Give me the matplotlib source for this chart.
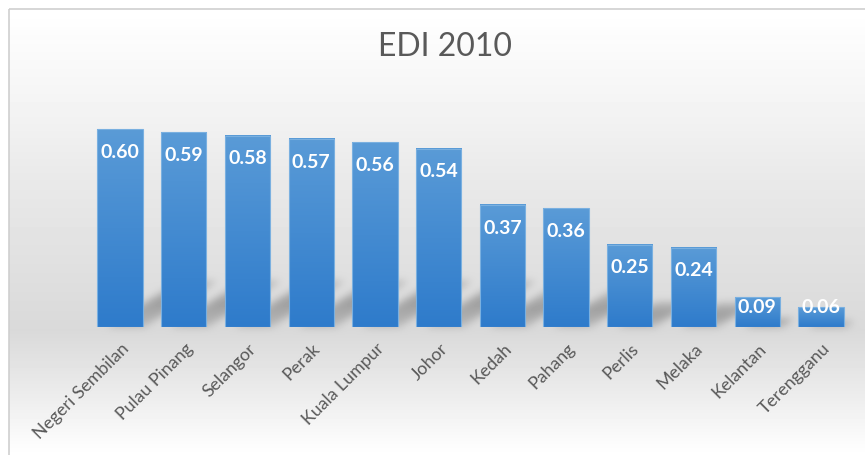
import numpy as np
import matplotlib
matplotlib.use("Agg")
import matplotlib.pyplot as plt
from matplotlib.patches import Rectangle
from matplotlib.colors import LinearSegmentedColormap

# data
states = ["Negeri Sembilan", "Pulau Pinang", "Selangor", "Perak", "Kuala Lumpur",
          "Johor", "Kedah", "Pahang", "Perlis", "Melaka", "Kelantan", "Terengganu"]
edi = [0.60, 0.59, 0.58, 0.57, 0.56, 0.54, 0.37, 0.36, 0.25, 0.24, 0.09, 0.06]

W, H = 865, 455
fig = plt.figure(figsize=(W / 100, H / 100), dpi=100)
fig.patch.set_facecolor("white")

# main axes
left_px, right_px = 88.1, 852.9
base_px, top_px = 327, 112.5
ax = fig.add_axes([left_px / W, (H - base_px) / H, (right_px - left_px) / W,
                   (base_px - top_px) / H], zorder=2)
ax.set_xlim(-0.5, len(states) - 0.5)
ax.set_ylim(0, 0.65)
ax.patch.set_alpha(0)
ax.axis("off")

bw = 0.71

# background gradient + soft cast shadows, built as a raster
stops_y = [0, 10, 110, 180, 330, 400, 445, 455]
stops_c = [1.0, 1.0, 0.953, 0.914, 0.851, 0.933, 0.99, 1.0]
col = np.interp(np.arange(H), stops_y, stops_c)
shade = np.zeros((H, W))
xs = np.arange(W)
for i, v in enumerate(edi):
    (px0, py0), (px1, py1) = ax.transData.transform([(i - bw / 2, 0), (i + bw / 2, v)])
    base = H - py0
    hpx = py1 - py0
    dh = min(0.3 * hpx, 46)
    skew = 1.6 * dh
    for yrow in range(int(base - dh), int(base)):
        t = (base - yrow) / dh
        a = px0 + 8 + t * skew
        b = px1 + t * skew
        shade[yrow, (xs >= a) & (xs <= b)] = 0.55 + 0.45 * (1 - abs(t - 0.55) / 0.55)


def blur(arr, sigma):
    k = np.arange(-3 * sigma, 3 * sigma + 1)
    g = np.exp(-k ** 2 / (2 * sigma ** 2))
    g /= g.sum()
    arr = np.apply_along_axis(lambda r: np.convolve(r, g, mode="same"), 1, arr)
    return np.apply_along_axis(lambda c: np.convolve(c, g, mode="same"), 0, arr)


shade = blur(shade, 4)
img = col[:, None] * (1 - 0.28 * shade)

bg = fig.add_axes([0, 0, 1, 1], zorder=0)
bg.set_xlim(0, W)
bg.set_ylim(H, 0)
bg.axis("off")
bg.imshow(img[9:, 9:], cmap="gray", vmin=0, vmax=1, extent=[9, W, H, 9],
          aspect="auto", interpolation="bilinear")
bg.add_patch(Rectangle((9, 9), W, H, fill=False, edgecolor="#cfcfcf", lw=1.2))

grad = LinearSegmentedColormap.from_list("bar", ["#2e7bcb", "#5a9bd7"])
gimg = np.linspace(0, 1, 256)[:, None]

for i, v in enumerate(edi):
    x0 = i - bw / 2
    ax.imshow(gimg, cmap=grad, extent=[x0, x0 + bw, 0, v], origin="lower",
              aspect="auto", zorder=3, interpolation="bilinear")
    ax.add_patch(Rectangle((x0, 0), bw, v, fill=False, edgecolor="#7ab0e0",
                           lw=0.8, zorder=4))
    ly = max(v - 0.07, 0.06)
    ax.text(i, ly, f"{v:.2f}", ha="center", va="center", color="white",
            fontsize=14, fontweight="bold", family="Lato", zorder=5)
    ax.text(i + 0.1, -0.058, states[i], ha="right", va="center", rotation=45,
            rotation_mode="anchor", color="#595959", fontsize=12.8, family="Lato",
            clip_on=False, zorder=5)

ax.set_xlim(-0.5, len(states) - 0.5)
ax.set_ylim(0, 0.65)

fig.text(445 / W, 1 - 47 / H, "EDI 2010", ha="center", va="center",
         fontsize=23, color="#595959", family="Lato", zorder=5)

fig.savefig("out.png", dpi=100)
